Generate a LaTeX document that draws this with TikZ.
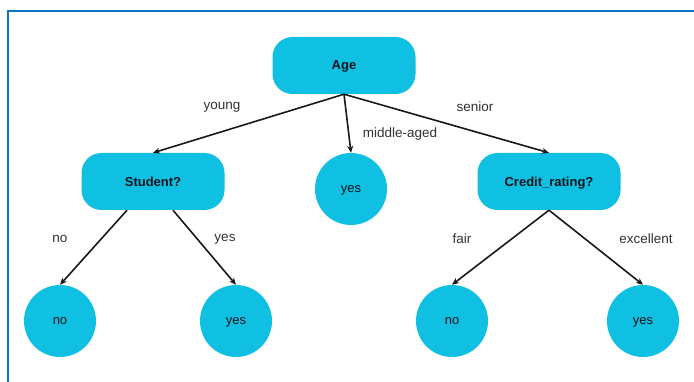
\documentclass[tikz,border=0pt]{standalone}
\usepackage{fontspec}
\setmainfont{Liberation Sans}
\usetikzlibrary{arrows.meta,calc}
\definecolor{nodefill}{RGB}{16,192,226}
\definecolor{framecol}{RGB}{10,118,200}
\definecolor{edgecol}{RGB}{25,25,25}
\definecolor{labelcol}{RGB}{50,50,50}
\definecolor{nodetext}{RGB}{15,20,30}
\tikzset{
  decision/.style={fill=nodefill, draw=none, rounded corners=20pt,
    minimum width=143pt, minimum height=57pt, text depth=0pt,
    font=\fontsize{13}{15}\selectfont\bfseries, text=nodetext},
  leaf/.style={circle, fill=nodefill, draw=none, minimum size=72pt, inner sep=0pt,
    text depth=0pt, font=\fontsize{13}{15}\selectfont, text=nodetext},
  edge/.style={draw=edgecol, line width=1.6pt, -{Stealth[length=7pt,width=6pt]}},
  elabel/.style={font=\fontsize{13.5}{15}\selectfont, text=labelcol}
}
\begin{document}
\begin{tikzpicture}[x=1pt,y=-1pt]
  \useasboundingbox (0,0) rectangle (694,382);
  \fill[white] (0,0) rectangle (694,382);
  % frame lines
  \draw[framecol, line width=2pt] (7.5,382) -- (7.5,11) -- (694,11);

  % nodes
  \node[decision] (age) at (344,65.5) {Age};
  \node[decision] (stu) at (153,181.5) {Student?};
  \node[decision] (cred) at (549,181.5) {Credit\_rating?};
  \node[leaf] (mid) at (351,189) {yes};
  \node[leaf] (sno) at (60,321) {no};
  \node[leaf] (syes) at (236,321) {yes};
  \node[leaf] (cno) at (452,321) {no};
  \node[leaf] (cyes) at (643,321) {yes};

  % connectors
  \draw[edge] (age.south) -- (stu.north);
  \draw[edge] (age.south) -- (mid.north);
  \draw[edge] (age.south) -- (cred.north);
  \draw[edge] ($(stu.south)+(-26,0)$) -- (sno.north);
  \draw[edge] ($(stu.south)+(20,0)$) -- (syes.north);
  \draw[edge] (cred.south) -- (cno.north);
  \draw[edge] (cred.south) -- (cyes.north);

  % branch labels
  \node[elabel] (lyoung) at (222,107) {young};
  \node[elabel] (lsenior) at (475,107) {senior};
  \node[elabel] (lmid) at (400,134) {middle-aged};
  \node[elabel] (lno) at (60,239) {no};
  \node[elabel] (lyes) at (225,239) {yes};
  \node[elabel] (lfair) at (462,239) {fair};
  \node[elabel] (lexc) at (646,239) {excellent};
\end{tikzpicture}
\end{document}
